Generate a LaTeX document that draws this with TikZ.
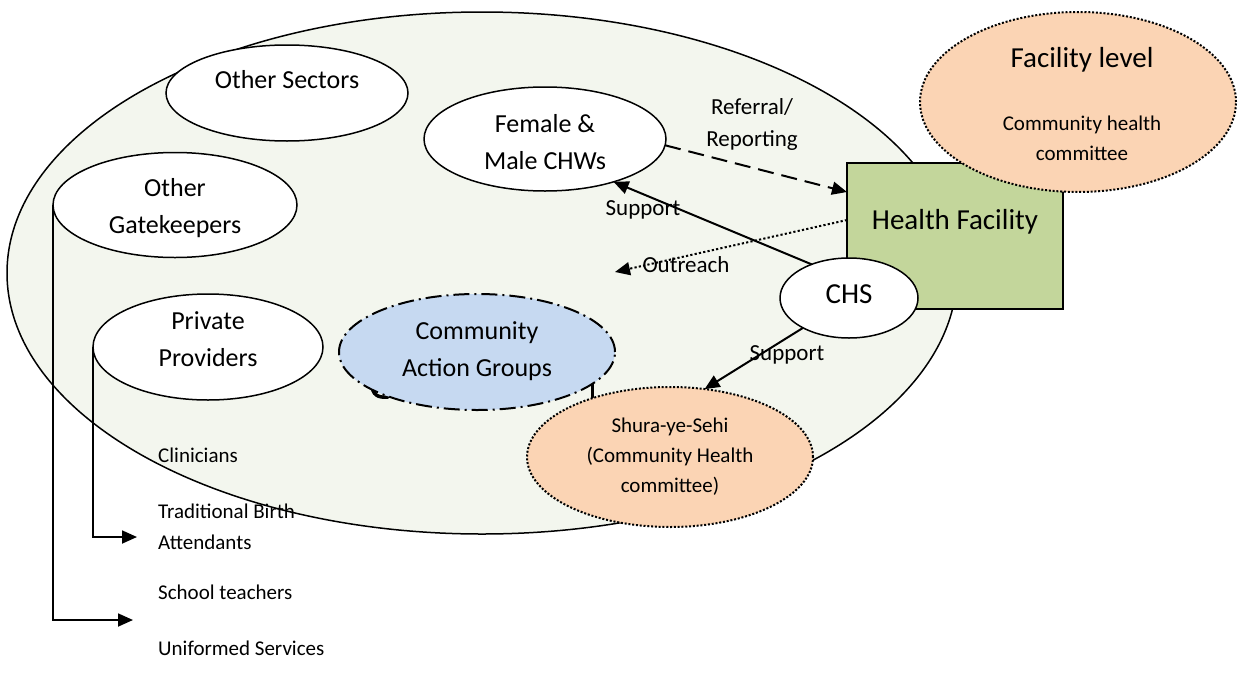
\documentclass[tikz,border=0pt]{standalone}
\usepackage{fontspec}
\setmainfont{Carlito}
\usetikzlibrary{shapes.geometric,arrows.meta,calc}
\definecolor{fieldbg}{HTML}{F3F6EE}
\definecolor{groupblue}{HTML}{C6D9F1}
\definecolor{facgreen}{HTML}{C3D69B}
\definecolor{peach}{HTML}{FBD4B4}
\begin{document}
\begin{tikzpicture}[x=1pt,y=-1pt,
  blob/.style={ellipse, draw, line width=1.5pt, fill=white, inner sep=0pt, outer sep=0pt},
  dotblob/.style={blob, fill=peach, line width=2pt, dash pattern=on 2pt off 1.8pt},
  big/.style={font=\fontsize{26}{37}\selectfont, align=center, inner sep=0pt},
  large/.style={font=\fontsize{29}{34}\selectfont, align=center, inner sep=0pt},
  small/.style={font=\fontsize{21}{30}\selectfont, align=center, inner sep=0pt},
  listtext/.style={font=\fontsize{21}{31}\selectfont, align=left, anchor=west, inner sep=0pt},
  linklabel/.style={font=\fontsize{23}{32}\selectfont, align=center, inner sep=0pt},
  tip/.style={-{Triangle[length=15pt,width=13pt]}, line width=2pt}
]
\useasboundingbox (0,0) rectangle (1238,688);

% community field
\node[blob, fill=fieldbg, minimum width=950pt, minimum height=522pt] (field) at (482,273) {};

% actors inside the community
\node[blob, minimum width=242pt, minimum height=96pt] (sectors) at (287,93) {};
\node[big] (sectorsT) at (287,80) {Other Sectors};

\node[blob, minimum width=244pt, minimum height=105pt] (gate) at (175,205) {};
\node[big] (gateT) at (175,208) {Other\\Gatekeepers};

\node[blob, minimum width=230pt, minimum height=106pt] (private) at (208,347) {};
\node[big] (privateT) at (208,339) {Private\\Providers};

\node[blob, minimum width=242pt, minimum height=104pt] (chw) at (545,139) {};
\node[big] (chwT) at (545,142) {Female \&\\Male CHWs};

% partly hidden strokes under the action groups
\draw[line width=3.5pt, line cap=round] (372,384) .. controls (372,395) and (378,398) .. (388,397);
\draw[line width=3pt] (592,383) -- (592,400);

\node[blob, fill=groupblue, line width=2pt, dash pattern=on 16pt off 5pt on 2pt off 5pt,
      minimum width=276pt, minimum height=116pt] (cag) at (477,352) {};
\node[big] (cagT) at (477,351) {Community\\Action Groups};

% health facility and its committee
\node[draw, fill=facgreen, line width=1.5pt, minimum width=216pt, minimum height=146pt,
      inner sep=0pt, outer sep=0pt] (hf) at (955,236) {};
\node[large] (hfT) at (955,222) {Health Facility};

\node[dotblob, minimum width=316pt, minimum height=180pt] (fac) at (1078,102) {};
\node[large] (facT) at (1082,60) {Facility level};
\node[small] (facS) at (1082,138) {Community health\\committee};

\node[blob, minimum width=138pt, minimum height=80pt] (chs) at (849,298) {};
\node[large] (chsT) at (849,294) {CHS};

\node[dotblob, minimum width=286pt, minimum height=140pt] (shura) at (670,457) {};
\node[small] (shuraT) at (670,457) {Shura-ye-Sehi\\(Community Health\\committee)};

% links between actors
\draw[tip, dash pattern=on 16pt off 8pt] (chw.-3) -- ($(hf.north west)+(0,29)$);
\node[linklabel] (refT) at (752,124) {Referral/\\Reporting};

\draw[tip] (chs.138) -- (chw.-32);
\node[linklabel] (sup1T) at (643,210) {Support};

\coordinate (outEnd) at (615,272);
\draw[tip, dash pattern=on 2.2pt off 2.2pt] ($(hf.north west)+(0,57)$) -- (outEnd);
\node[linklabel] (outT) at (686,265) {Outreach};

\draw[tip] (chs.213) -- (shura.63);
\node[linklabel] (sup2T) at (787,355) {Support};

% who the gatekeepers and providers are
\coordinate (ppEnd) at (137,537);
\draw[tip, line width=1.8pt] (private.west) -- (private.west |- ppEnd) -- (ppEnd);
\coordinate (gkEnd) at (133,620);
\draw[tip, line width=1.8pt] (gate.west) -- (gate.west |- gkEnd) -- (gkEnd);

\node[listtext] (clin) at (158,455) {Clinicians};
\node[listtext] (tba) at (158,527) {Traditional Birth\\Attendants};
\node[listtext] (school) at (158,592) {School teachers};
\node[listtext] (uniform) at (158,648) {Uniformed Services};
\end{tikzpicture}
\end{document}
